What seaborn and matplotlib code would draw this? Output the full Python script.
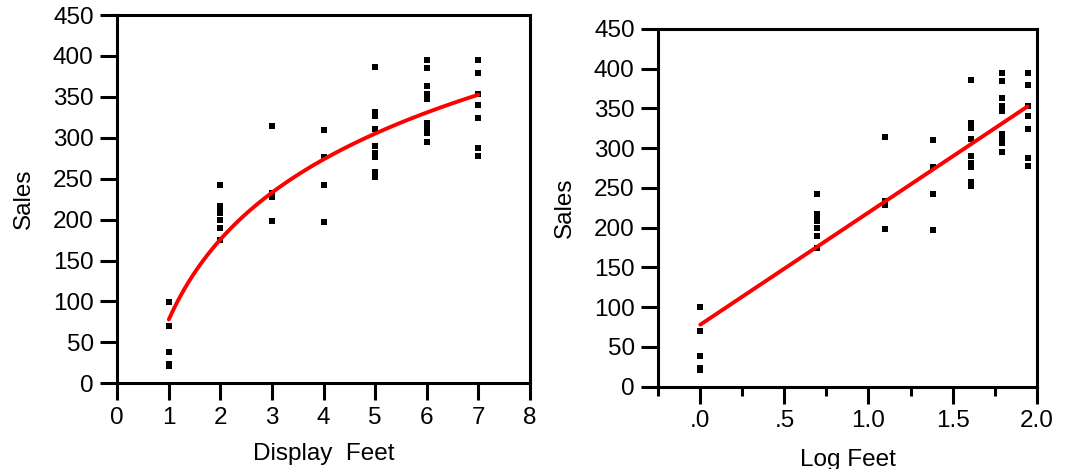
import numpy as np
import pandas as pd
import matplotlib
matplotlib.use("Agg")
import matplotlib.pyplot as plt
import seaborn as sns

# ---- data ----
display_feet = [1, 1, 1, 1, 1,
                2, 2, 2, 2, 2, 2, 2,
                3, 3, 3, 3,
                4, 4, 4, 4,
                5, 5, 5, 5, 5, 5, 5, 5, 5,
                6, 6, 6, 6, 6, 6, 6, 6, 6,
                7, 7, 7, 7, 7, 7, 7]
sales = [99.7, 70.4, 38.0, 24.0, 21.0,
         242, 217, 212, 208, 200, 190, 175,
         314, 233, 228, 198,
         310, 276, 242, 197,
         386, 332, 326, 311, 290, 282, 276, 258, 252,
         395, 385, 363, 353, 347, 318, 312, 306, 295,
         395, 379, 353, 340, 324, 288, 278]

left_xticks = [0, 1, 2, 3, 4, 5, 6, 7, 8]
y_ticks = [0, 50, 100, 150, 200, 250, 300, 350, 400, 450]
right_xticks = [0.0, 0.5, 1.0, 1.5, 2.0]
right_xticklabels = [".0", ".5", "1.0", "1.5", "2.0"]
right_minor = [-0.25, 0.25, 0.75, 1.25, 1.75]

df = pd.DataFrame({"Display Feet": display_feet, "Sales": sales})
df["Log Feet"] = np.log(df["Display Feet"])

sns.set_style("white")
plt.rcParams["font.family"] = ["Liberation Sans", "DejaVu Sans"]
plt.rcParams["text.color"] = "black"
plt.rcParams["axes.labelcolor"] = "black"
plt.rcParams["xtick.color"] = "black"
plt.rcParams["ytick.color"] = "black"
plt.rcParams["xtick.labelcolor"] = "black"
plt.rcParams["ytick.labelcolor"] = "black"

fig = plt.figure(figsize=(10.65, 4.69), dpi=100)
ax1 = fig.add_axes([0.1101, 0.1827, 0.3875, 0.7853])
ax2 = fig.add_axes([0.6181, 0.1755, 0.3553, 0.7627])

scat_kw = dict(s=22, color="black", linewidths=0, alpha=1)
line_kw = dict(color="#ff0000", linewidth=2.8)

sns.regplot(data=df, x="Display Feet", y="Sales", logx=True, ci=None,
            marker="s", scatter_kws=scat_kw, line_kws=line_kw, ax=ax1)
sns.regplot(data=df, x="Log Feet", y="Sales", ci=None,
            marker="s", scatter_kws=scat_kw, line_kws=line_kw, ax=ax2)

fs = 17.5
for ax in (ax1, ax2):
    for sp in ax.spines.values():
        sp.set_visible(True)
        sp.set_color("black")
        sp.set_linewidth(2.2)
    ax.set_ylim(0, 450)
    ax.set_yticks(y_ticks)
    ax.set_yticklabels([str(v) for v in y_ticks])
    ax.tick_params(axis="both", which="major", direction="out", length=12,
                   width=2.2, color="black", labelcolor="black",
                   labelsize=fs, pad=5, left=True, bottom=True)
    ax.set_ylabel("Sales", fontsize=fs, labelpad=13, color="black")

ax1.set_xlim(0, 8)
ax1.set_xticks(left_xticks)
ax1.set_xticklabels([str(v) for v in left_xticks])
ax1.set_xlabel("Display  Feet", fontsize=fs, labelpad=10, color="black")

ax2.set_xlim(-0.25, 2.0)
ax2.set_xticks(right_xticks)
ax2.set_xticklabels(right_xticklabels)
ax2.set_xticks(right_minor, minor=True)
ax2.tick_params(axis="x", which="minor", direction="out", length=6.5,
                width=2.2, color="black", bottom=True)
ax2.set_xlabel("Log Feet", fontsize=fs, labelpad=12, color="black")

fig.savefig("out.png", dpi=100)
